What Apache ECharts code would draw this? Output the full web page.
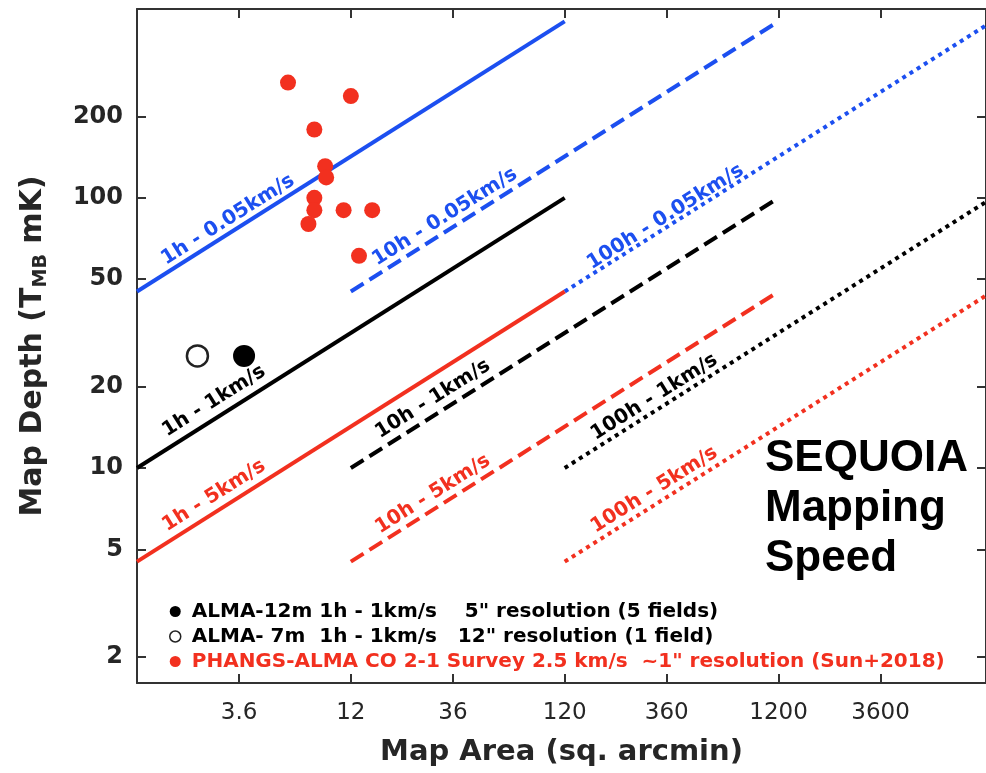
<!DOCTYPE html>
<html><head><meta charset="utf-8">
<script src="https://cdn.jsdelivr.net/npm/echarts@6/dist/echarts.min.js"></script>
<style>html,body{margin:0;padding:0;background:#fff}#c{width:986px;height:773px}</style>
</head><body><div id="c"></div>
<script>
// ---------- data ----------
const xTicks = [3.6, 12, 36, 120, 360, 1200, 3600];
const yTicks = [2, 5, 10, 20, 50, 100, 200];
const xRange = [1.2, 11200];
const yRange = [1.6, 500];

const hours = ['1h', '10h', '100h'];
const velocities = ['0.05km/s', '1km/s', '5km/s'];
const areaStart = [1.2, 12, 120];        // per hours
const areaEnd = [120, 1200, 12000];      // per hours
const depthStart = [45, 10, 4.5];        // per velocity
const depthEnd = [450, 100, 45];         // per velocity

// label anchors (data space), order: velocity-major, hours-minor
const labelArea = [3.2, 33, 355, 2.75, 29, 315, 2.75, 29, 315];
const labelDepth = [83, 85, 85, 17.7, 18, 18.3, 7.9, 8.0, 8.3];

const alma12Area = [3.8];
const alma12Depth = [26];
const alma7Area = [2.3];
const alma7Depth = [26];
const phangsArea = [6.1, 12.0, 8.1, 9.1, 9.2, 8.1, 8.1, 7.6, 11.1, 15.1, 13.1];
const phangsDepth = [267, 238, 179, 131, 119, 100, 90, 80, 90, 90, 61];

const legendNames = [
  'ALMA-12m 1h - 1km/s    5" resolution (5 fields)',
  'ALMA- 7m  1h - 1km/s   12" resolution (1 field)',
  'PHANGS-ALMA CO 2-1 Survey 2.5 km/s  ~1" resolution (Sun+2018)'
];

// ---------- styles ----------
const L = v => Math.log10(v);
const BLUE = '#1c4ff0', BLACK = '#000000', RED = '#f2301f';
const velColor = [BLUE, BLACK, RED];
const hourDash = ['solid', [15, 7], [4, 4.5]];
const AX = '#333333';
const FONT = 'DejaVu Sans';
const ANGLE = Math.atan(0.5 * (674 / (L(yRange[1]) - L(yRange[0]))) / (851 / (L(xRange[1]) - L(xRange[0])))) * 180 / Math.PI;

const nearestTick = ticks => v => {
  let best = ticks[0];
  ticks.forEach(t => { if (Math.abs(L(t) - v) < Math.abs(L(best) - v)) best = t; });
  return String(best);
};

function axisBase(range, ticks) {
  return {
    type: 'value', min: L(range[0]), max: L(range[1]),
    splitLine: { show: false },
    axisLine: { show: true, onZero: false, lineStyle: { color: AX, width: 2 } },
    axisTick: { show: true, inside: true, length: 9, customValues: ticks.map(L), lineStyle: { color: AX, width: 2 } }
  };
}

const series = [];
velocities.forEach((vel, vi) => {
  hours.forEach((hr, hi) => {
    const idx = vi * 3 + hi;
    const name = hr + ' - ' + vel;
    series.push({
      type: 'line', name: name, silent: true, symbol: 'none', showSymbol: false, z: 2,
      data: [[L(areaStart[hi]), L(depthStart[vi])], [L(areaEnd[hi]), L(depthEnd[vi])]],
      lineStyle: { color: velColor[vi], width: 4, type: hourDash[hi], cap: 'butt' },
      markPoint: {
        symbol: 'circle', symbolSize: 1, silent: true,
        itemStyle: { color: 'rgba(0,0,0,0)' },
        data: [{ coord: [L(labelArea[idx]), L(labelDepth[idx])] }],
        label: {
          show: true, position: 'inside', formatter: name, rotate: ANGLE,
          color: velColor[vi], fontFamily: FONT, fontSize: 20, fontWeight: 'bold'
        }
      }
    });
  });
});

series.push({
  type: 'scatter', name: legendNames[0], z: 4, symbol: 'circle', symbolSize: 22,
  itemStyle: { color: '#000', opacity: 1 },
  data: alma12Area.map((a, i) => [L(a), L(alma12Depth[i])])
});
series.push({
  type: 'scatter', name: legendNames[1], z: 4, symbol: 'circle', symbolSize: 21,
  itemStyle: { color: '#fff', borderColor: '#222', borderWidth: 2.5, opacity: 1 },
  data: alma7Area.map((a, i) => [L(a), L(alma7Depth[i])])
});
series.push({
  type: 'scatter', name: legendNames[2], z: 4, symbol: 'circle', symbolSize: 16,
  itemStyle: { color: RED, opacity: 1 },
  data: phangsArea.map((a, i) => [L(a), L(phangsDepth[i])])
});

const chart = echarts.init(document.getElementById('c'), null, { renderer: 'canvas' });
chart.setOption({
  animation: false,
  backgroundColor: '#fff',
  grid: { left: 137, right: -2, top: 9, bottom: 90, show: false },
  xAxis: [
    Object.assign(axisBase(xRange, xTicks), {
      position: 'bottom',
      axisLabel: { customValues: xTicks.map(L), formatter: nearestTick(xTicks), margin: 19, color: '#262626', fontFamily: FONT, fontSize: 23 },
      name: 'Map Area (sq. arcmin)', nameLocation: 'middle', nameGap: 55,
      nameTextStyle: { color: '#262626', fontFamily: FONT, fontSize: 29, fontWeight: 'bold' }
    }),
    Object.assign(axisBase(xRange, xTicks), { position: 'top', axisLabel: { show: false } })
  ],
  yAxis: [
    Object.assign(axisBase(yRange, yTicks), {
      position: 'left',
      axisLabel: { customValues: yTicks.map(L), formatter: nearestTick(yTicks), margin: 14, color: '#262626', fontFamily: FONT, fontSize: 24, fontWeight: 'bold' },
      name: 'Map Depth (T{s|MB} mK)', nameLocation: 'middle', nameGap: 86,
      nameTextStyle: {
        color: '#262626', fontFamily: FONT, fontSize: 30, fontWeight: 'bold', lineHeight: 36,
        rich: { s: { color: '#262626', fontFamily: FONT, fontSize: 19, fontWeight: 'bold', lineHeight: 19, verticalAlign: 'bottom' } }
      }
    }),
    Object.assign(axisBase(yRange, yTicks), { position: 'right', axisLabel: { show: false } })
  ],
  legend: {
    orient: 'vertical', left: 164, top: 596, icon: 'circle',
    itemWidth: 11, itemHeight: 11, itemGap: 4, selectedMode: false,
    data: [
      { name: legendNames[0], textStyle: { color: '#000' } },
      { name: legendNames[1], textStyle: { color: '#000' }, itemStyle: { borderWidth: 1.5 } },
      { name: legendNames[2], textStyle: { color: RED } }
    ],
    textStyle: { fontFamily: FONT, fontSize: 20, fontWeight: 'bold', lineHeight: 21, padding: [0, 0, 0, 6] }
  },
  graphic: [{
    type: 'text', left: 765, top: 434, z: 10,
    style: { text: 'SEQUOIA\nMapping\nSpeed', fill: '#000', font: 'bold 44px "Liberation Sans"', lineHeight: 50 }
  }],
  series: series
});
</script></body></html>
